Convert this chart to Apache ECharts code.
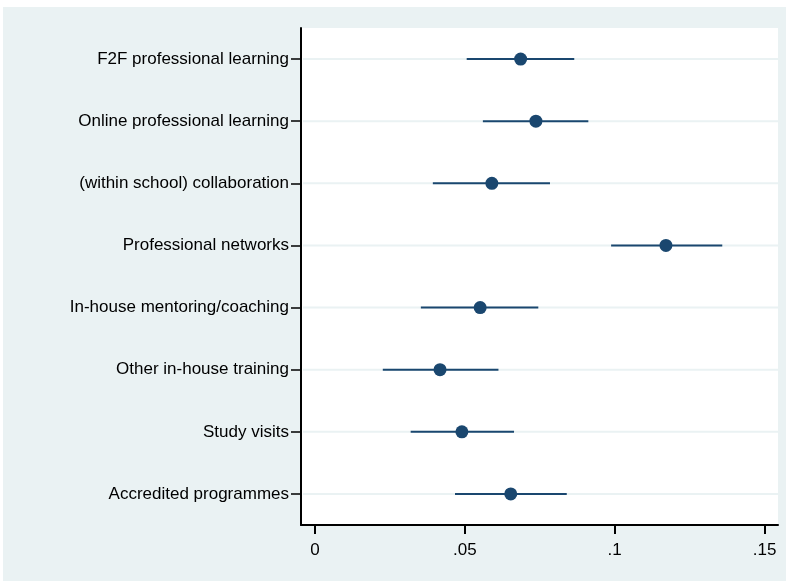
<!DOCTYPE html>
<html>
<head>
<meta charset="utf-8">
<script src="https://cdn.jsdelivr.net/npm/echarts@6/dist/echarts.min.js"></script>
<style>
  html, body { margin: 0; padding: 0; background: #fff; }
  #bg { position: absolute; left: 3px; top: 7px; width: 783px; height: 574px; background: #EAF2F3; }
  #chart { position: absolute; left: 0; top: 0; width: 786px; height: 581px; }
</style>
</head>
<body>
<div id="bg"></div>
<div id="chart"></div>
<script>
// categories, top to bottom
var categories = [
    'F2F professional learning',
    'Online professional learning',
    '(within school) collaboration',
    'Professional networks',
    'In-house mentoring/coaching',
    'Other in-house training',
    'Study visits',
    'Accredited programmes'
];
// point estimates
var estimates = [0.0686, 0.0737, 0.0590, 0.1171, 0.0551, 0.0417, 0.0490, 0.0653];
// confidence interval bounds
var lower = [0.0506, 0.0560, 0.0393, 0.0988, 0.0353, 0.0226, 0.0319, 0.0467];
var upper = [0.0865, 0.0912, 0.0784, 0.1359, 0.0745, 0.0612, 0.0664, 0.0840];
var xTicks = [0, 0.05, 0.1, 0.15];

var navy = '#1A476F';
var chart = echarts.init(document.getElementById('chart'));

var ciData = categories.map(function (c, i) { return [i, lower[i], upper[i]]; });
var pointData = categories.map(function (c, i) { return [estimates[i], c]; });

chart.setOption({
    backgroundColor: 'transparent',
    animation: false,
    textStyle: { fontFamily: 'Liberation Sans, Arial, sans-serif' },
    grid: {
        left: 301, top: 28, right: 8, bottom: 56,
        show: true, backgroundColor: '#fff', borderWidth: 0
    },
    xAxis: {
        type: 'value',
        min: -0.0047,
        max: 0.1545,
        splitLine: { show: false },
        axisLine: { show: true, onZero: false, lineStyle: { color: '#000', width: 2 } },
        axisTick: { show: true, length: 9, lineStyle: { color: '#000', width: 2 }, customValues: xTicks },
        axisLabel: {
            color: '#000', fontSize: 17, margin: 17,
            customValues: xTicks,
            formatter: function (v) { return v === 0 ? '0' : String(v).replace(/^0/, ''); }
        }
    },
    yAxis: {
        type: 'category',
        data: categories,
        inverse: true,
        splitLine: { show: false },
        axisLine: { show: true, onZero: false, lineStyle: { color: '#000', width: 2 } },
        axisTick: { show: true, alignWithLabel: true, length: 10, lineStyle: { color: '#000', width: 1.5 } },
        axisLabel: { color: '#000', fontSize: 17, margin: 12 }
    },
    series: [
        {
            type: 'custom',
            data: ciData,
            z: 2,
            renderItem: function (params, api) {
                var cat = api.value(0);
                var a = api.coord([api.value(1), cat]);
                var b = api.coord([api.value(2), cat]);
                var cs = params.coordSys;
                return {
                    type: 'group',
                    children: [
                        {
                            type: 'line',
                            shape: { x1: cs.x + 2, y1: a[1], x2: cs.x + cs.width, y2: a[1] },
                            style: { stroke: '#EAF2F3', lineWidth: 2 },
                            z2: 0
                        },
                        {
                            type: 'line',
                            shape: { x1: a[0], y1: a[1], x2: b[0], y2: b[1] },
                            style: { stroke: navy, lineWidth: 2 },
                            z2: 5
                        }
                    ]
                };
            },
            encode: { x: [1, 2], y: 0 }
        },
        {
            type: 'scatter',
            data: pointData,
            symbol: 'circle',
            symbolSize: 13,
            z: 3,
            itemStyle: { color: navy, opacity: 1 }
        }
    ]
});
</script>
</body>
</html>
